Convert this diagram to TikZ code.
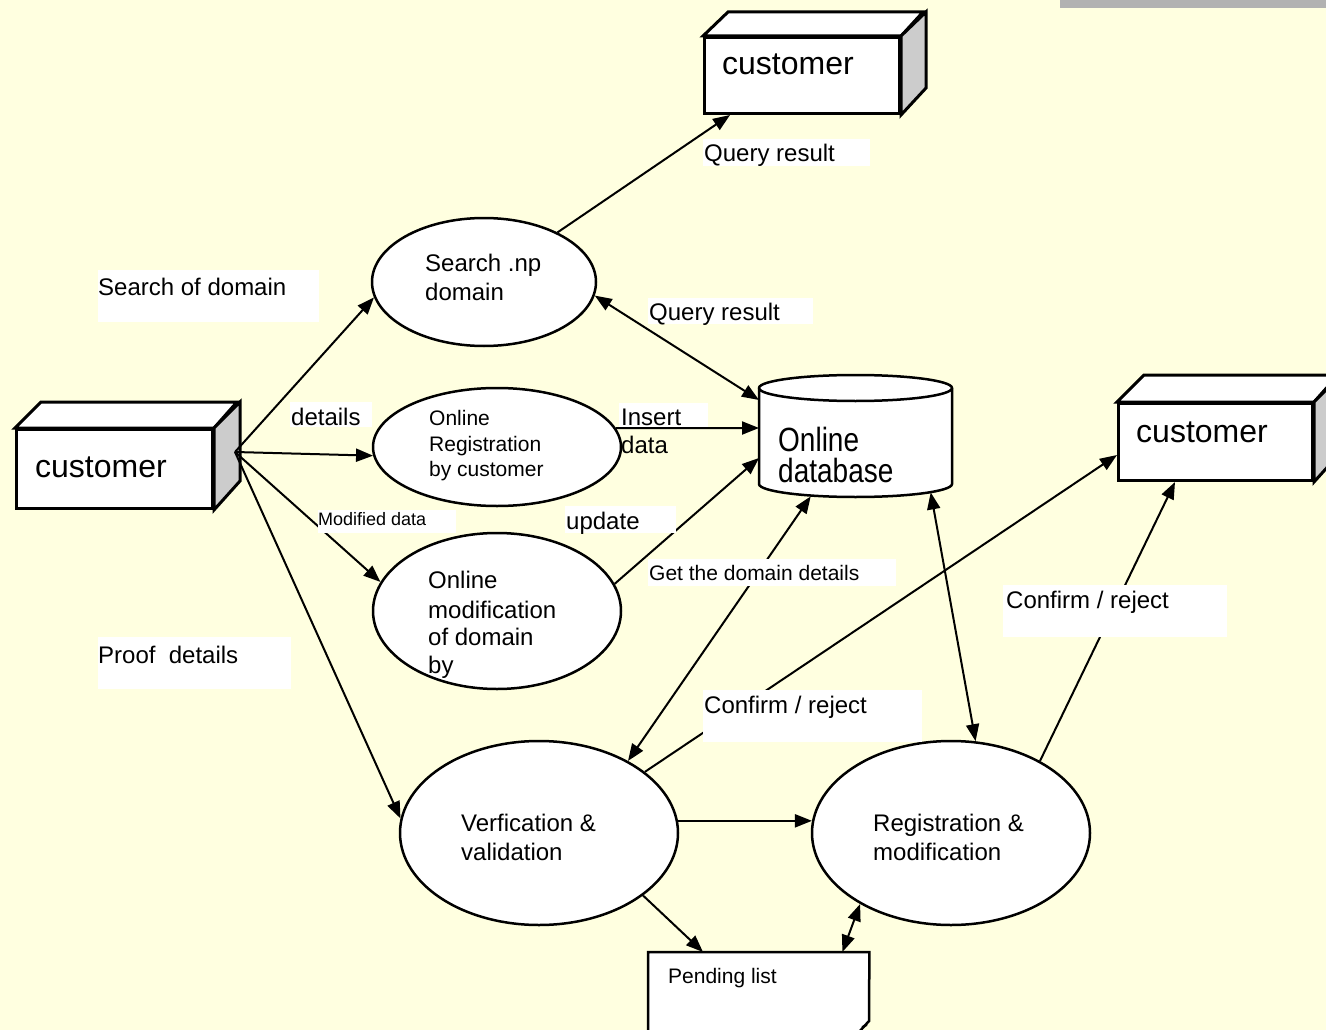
\documentclass[tikz,border=0pt]{standalone}
\usepackage{fontspec}
\setmainfont{Liberation Sans}
\usetikzlibrary{shapes.geometric,arrows.meta,calc}
\definecolor{bgy}{HTML}{FFFFE0}
\definecolor{barg}{HTML}{B2B2B2}
\definecolor{sideg}{HTML}{CCCCCC}
\newcommand\fsz[1]{\fontsize{#1}{#1}\selectfont}
\begin{document}
\begin{tikzpicture}[x=1pt,y=-1pt,
  boxline/.style={line width=3pt, line join=miter},
  frontface/.style={draw, boxline, fill=white, inner sep=0, anchor=north west},
  proc/.style={ellipse, draw, line width=2.5pt, fill=white, inner sep=0},
  lbl/.style={inner sep=0, anchor=base west},
  arr/.style={line width=2pt, -{Triangle[length=17pt,width=13pt]}},
  darr/.style={line width=2pt, {Triangle[length=17pt,width=13pt]}-{Triangle[length=17pt,width=13pt]}},
]
\useasboundingbox (0,0) rectangle (1326,1030);
\clip (0,0) rectangle (1326,1030);
\fill[bgy] (0,0) rectangle (1326,1030);
\fill[barg] (1060,0) rectangle (1326,8);

% ---- 3D customer boxes
\node[frontface, minimum width=196, minimum height=79] (cust0) at (15,428) {};
\draw[boxline, fill=white] (cust0.north west) -- ++(26,-26) -- ++(196,0) -- (cust0.north east) -- cycle;
\draw[boxline, fill=sideg] (cust0.north east) -- ++(26,-26) -- ++(0,79) -- (cust0.south east) -- cycle;

\node[frontface, minimum width=195, minimum height=76] (cust1) at (703,36) {};
\draw[boxline, fill=white] (cust1.north west) -- ++(25,-24) -- ++(195,0) -- (cust1.north east) -- cycle;
\draw[boxline, fill=sideg] (cust1.north east) -- ++(25,-24) -- ++(0,76) -- (cust1.south east) -- cycle;

\node[frontface, minimum width=194, minimum height=77] (cust2) at (1117,402) {};
\draw[boxline, fill=white] (cust2.north west) -- ++(27,-27) -- ++(194,0) -- (cust2.north east) -- cycle;
\draw[boxline, fill=sideg] (cust2.north east) -- ++(27,-27) -- ++(0,77) -- (cust2.south east) -- cycle;

% ---- processes
\node[proc, minimum width=224, minimum height=128] (search) at (484,282) {};
\node[proc, minimum width=248, minimum height=118] (reg) at (497,447) {};
\node[proc, minimum width=248, minimum height=156] (mod) at (497,611) {};
\node[proc, minimum width=278, minimum height=184] (ver) at (539,833) {};
\node[proc, minimum width=278, minimum height=184] (regm) at (951,833) {};

% ---- database cylinder
\node[inner sep=0, minimum width=193, minimum height=122, anchor=north west] (db) at (759,375) {};
\draw[line width=2.5pt, fill=white] (759,388) -- (759,484)
  arc[start angle=180, end angle=360, x radius=96.5pt, y radius=13pt] -- (952,388)
  arc[start angle=0, end angle=180, x radius=96.5pt, y radius=13pt] -- cycle;
\draw[line width=2.5pt] (952,388) arc[start angle=0, end angle=-180, x radius=96.5pt, y radius=13pt];

% ---- pending list document
\node[inner sep=0, minimum width=221, minimum height=90, anchor=north west] (pend) at (648,952) {};
\draw[line width=2.5pt, fill=white, line join=miter] (648,1045) -- (pend.north west) -- (pend.north east) -- (869,1021) -- (859,1032) -- (640,1045);
\draw[line width=2pt] (862,1027) -- (867,1025);

% ---- connectors
\coordinate (hub) at (235,452);
\draw[arr] (search.34) -- ($(cust1.south west)+(27,0)$);
\draw[arr] (hub) -- (search.188);
\draw[arr] (hub) -- (reg.184);
\draw[arr] (hub) -- (mod.166);
\draw[arr] (hub) -- (ver.174);
\draw[darr] (search.-7) -- ($(db.north west)+(0,25)$);
\draw[arr] (reg.9) -- ($(db.north west)+(0,53)$);
\draw[arr] (mod.13) -- ($(db.north west)+(0,83)$);
\draw[darr] ($(db.south)+(-45,-1)$) -- (ver.39);
\draw[darr] ($(db.south)+(75,-5)$) -- (regm.75);
\draw[arr] (ver.30) -- ($(cust2.south west)+(0,-27)$);
\draw[arr] (regm.39) -- ($(cust2.south west)+(58,0)$);
\draw[arr] (ver.5) -- (regm.175);
\draw[arr] (ver.-31) -- ($(pend.north west)+(55,0)$);
\draw[darr] ($(pend.north east)+(-27,0)$) -- (regm.218);

% ---- white label boxes
\fill[white] (703,139) rectangle (870,166);
\fill[white] (98,270) rectangle (319,322);
\fill[white] (98,637) rectangle (291,689);
\fill[white] (648,298) rectangle (813,324);
\fill[white] (290,402) rectangle (372,427);
\fill[white] (619,403) rectangle (708,427);
\fill[white] (318,510) rectangle (456,533);
\fill[white] (565,506) rectangle (676,533);
\fill[white] (648,559) rectangle (896,586);
\fill[white] (703,690) rectangle (922,742);
\fill[white] (1003,585) rectangle (1227,637);

% ---- texts
\node[lbl, font=\fsz{32}] (t0) at (35,477) {customer};
\node[lbl, font=\fsz{32}] (t1) at (722,75) {customer};
\node[lbl, font=\fsz{32}] (t2) at (1136,442) {customer};
\node[lbl, font=\fsz{24}] (qr1) at (704,162) {Query result};
\node[lbl, font=\fsz{24}] (sod) at (98,295) {Search of domain};
\node[lbl, font=\fsz{24}] (prf) at (98,663) {Proof\ \ details};
\node[lbl, font=\fsz{24}] (qr2) at (649,320) {Query result};
\node[lbl, font=\fsz{24}] (dtl) at (291,425) {details};
\node[lbl, font=\fsz{24}] (sa) at (425,271) {Search .np};
\node[lbl, font=\fsz{24}] (sb) at (425,300) {domain};
\node[lbl, font=\fsz{21}] (ra) at (429,425) {Online};
\node[lbl, font=\fsz{21}] (rb) at (429,451) {Registration};
\node[lbl, font=\fsz{21}] (rc) at (429,476) {by customer};
\node[lbl, font=\fsz{24}] (ia) at (621,425) {Insert};
\node[lbl, font=\fsz{24}] (ib) at (621,453) {data};
\node[lbl, font=\fsz{18}] (mdd) at (318,525) {Modified data};
\node[lbl, font=\fsz{24}] (upd) at (566,529) {update};
\node[lbl, font=\fsz{24}] (ma) at (428,588) {Online};
\node[lbl, font=\fsz{24}] (mb) at (428,618) {modification};
\node[lbl, font=\fsz{24}] (mc) at (428,645) {of domain};
\node[lbl, font=\fsz{24}] (md) at (428,673) {by};
\node[lbl, font=\fsz{21}] (gdd) at (649,580) {Get the domain details};
\node[lbl, font=\fsz{28}] (da) at (778,451) {\scalebox{1}[1.2]{Online}};
\node[lbl, font=\fsz{28}] (dbb) at (778,482) {\scalebox{1}[1.2]{database}};
\node[lbl, font=\fsz{24}] (cr1) at (704,713) {Confirm / reject};
\node[lbl, font=\fsz{24}] (cr2) at (1006,608) {Confirm / reject};
\node[lbl, font=\fsz{24}] (va) at (461,831) {Verfication \&};
\node[lbl, font=\fsz{24}] (vb) at (461,860) {validation};
\node[lbl, font=\fsz{24}] (rma) at (873,831) {Registration \&};
\node[lbl, font=\fsz{24}] (rmb) at (873,860) {modification};
\node[lbl, font=\fsz{21}] (pl) at (668,983) {Pending list};
\end{tikzpicture}
\end{document}
